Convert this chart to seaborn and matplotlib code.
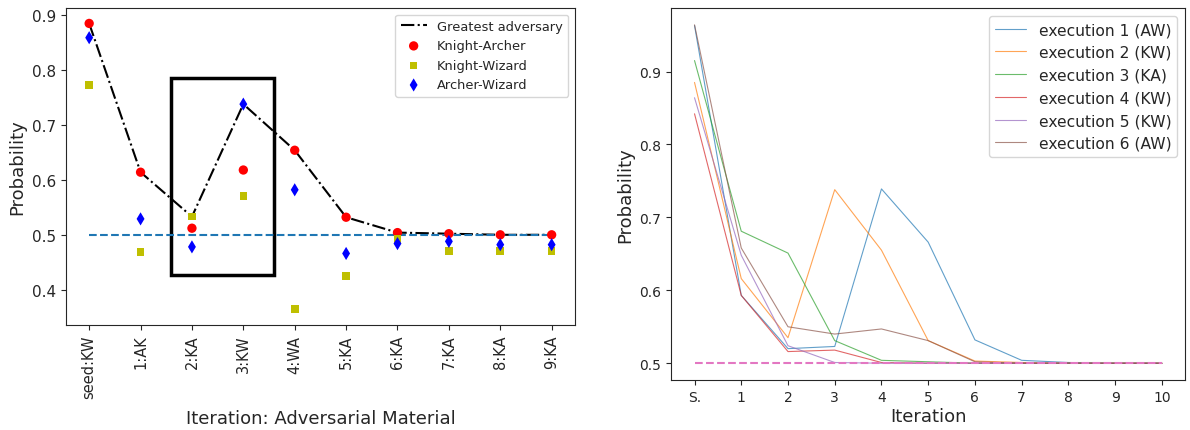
import pandas as pd
import matplotlib.pyplot as plt
import seaborn as sns
from matplotlib.patches import Rectangle

# left panel: adversarial material per iteration
materials = ['seed:KW', '1:AK', '2:KA', '3:KW', '4:WA', '5:KA', '6:KA', '7:KA', '8:KA', '9:KA']
knight_archer = [0.885, 0.614, 0.512, 0.618, 0.654, 0.532, 0.504, 0.502, 0.500, 0.500]
knight_wizard = [0.773, 0.469, 0.533, 0.571, 0.365, 0.425, 0.492, 0.471, 0.471, 0.471]
archer_wizard = [0.859, 0.529, 0.478, 0.738, 0.582, 0.466, 0.484, 0.488, 0.482, 0.482]
greatest = [0.885, 0.614, 0.533, 0.738, 0.654, 0.532, 0.504, 0.502, 0.500, 0.500]

# right panel: six executions
iter_labels = ['S.', '1', '2', '3', '4', '5', '6', '7', '8', '9', '10']
executions = {
    'execution 1 (AW)': [0.963, 0.593, 0.520, 0.523, 0.739, 0.666, 0.532, 0.504, 0.501, 0.500, 0.500],
    'execution 2 (KW)': [0.885, 0.616, 0.535, 0.738, 0.655, 0.531, 0.503, 0.501, 0.500, 0.500, 0.500],
    'execution 3 (KA)': [0.915, 0.681, 0.651, 0.531, 0.504, 0.502, 0.500, 0.500, 0.500, 0.500, 0.500],
    'execution 4 (KW)': [0.842, 0.593, 0.516, 0.518, 0.501, 0.500, 0.500, 0.500, 0.500, 0.500, 0.500],
    'execution 5 (KW)': [0.864, 0.648, 0.524, 0.501, 0.500, 0.500, 0.500, 0.500, 0.500, 0.500, 0.500],
    'execution 6 (AW)': [0.964, 0.658, 0.550, 0.540, 0.547, 0.531, 0.502, 0.500, 0.500, 0.500, 0.500],
}
run_colors = ['#1f77b4', '#ff7f0e', '#2ca02c', '#d62728', '#9467bd', '#8c564b']

sns.set_style("ticks")
fig = plt.figure(figsize=(11.9, 4.31), dpi=100)
ax1 = fig.add_axes([0.0555, 0.244, 0.4275, 0.735])
ax2 = fig.add_axes([0.564, 0.116, 0.432, 0.863])

left = pd.DataFrame({'x': range(len(materials)), 'ka': knight_archer, 'kw': knight_wizard,
                     'aw': archer_wizard, 'best': greatest})

sns.lineplot(data=left, x='x', y='best', ax=ax1, color='black', linestyle='-.',
             linewidth=1.5, label='Greatest adversary')
sns.scatterplot(data=left, x='x', y='ka', ax=ax1, color='red', marker='o', s=45,
                edgecolor='none', label='Knight-Archer', zorder=3)
sns.scatterplot(data=left, x='x', y='kw', ax=ax1, color='y', marker='s', s=30,
                edgecolor='none', label='Knight-Wizard', zorder=3)
sns.scatterplot(data=left, x='x', y='aw', ax=ax1, color='blue', marker='d', s=45,
                edgecolor='none', label='Archer-Wizard', zorder=3)
ax1.plot([0, len(materials) - 1], [0.5, 0.5], linestyle='--', color='#1f77b4', linewidth=1.5)
ax1.add_patch(Rectangle((1.6, 0.427), 2.0, 0.358, fill=False, edgecolor='black', linewidth=2.5))

ax1.set_xlim(-0.45, 9.45)
ax1.set_ylim(0.336, 0.913)
ax1.set_xticks(range(len(materials)))
ax1.set_xticklabels(materials, rotation=90, fontsize=10.5)
ax1.tick_params(axis='y', labelsize=11)
ax1.set_xlabel('Iteration: Adversarial Material', fontsize=13, labelpad=8)
ax1.set_ylabel('Probability', fontsize=13)
ax1.legend(loc='upper right', fontsize=9.4)

right = pd.DataFrame(executions)
right['x'] = range(len(iter_labels))
long = right.melt(id_vars='x', var_name='run', value_name='p')
sns.lineplot(data=long, x='x', y='p', hue='run', ax=ax2, palette=run_colors,
             linewidth=0.8, alpha=0.7)
ax2.plot([0, len(iter_labels) - 1], [0.5, 0.5], linestyle='--', color='#e377c2', linewidth=1.5)

ax2.set_xlim(-0.5, 10.5)
ax2.set_ylim(0.477, 0.987)
ax2.set_xticks(range(len(iter_labels)))
ax2.set_xticklabels(iter_labels)
ax2.set_yticks([0.5, 0.6, 0.7, 0.8, 0.9])
ax2.tick_params(labelsize=10)
ax2.set_xlabel('Iteration', fontsize=13, labelpad=2)
ax2.set_ylabel('Probability', fontsize=13)
leg = ax2.legend(loc='upper right', fontsize=11.2, title=None)
for line in leg.get_lines():
    line.set_linewidth(0.8)
    line.set_alpha(0.7)

fig.savefig('out.png', dpi=100)
